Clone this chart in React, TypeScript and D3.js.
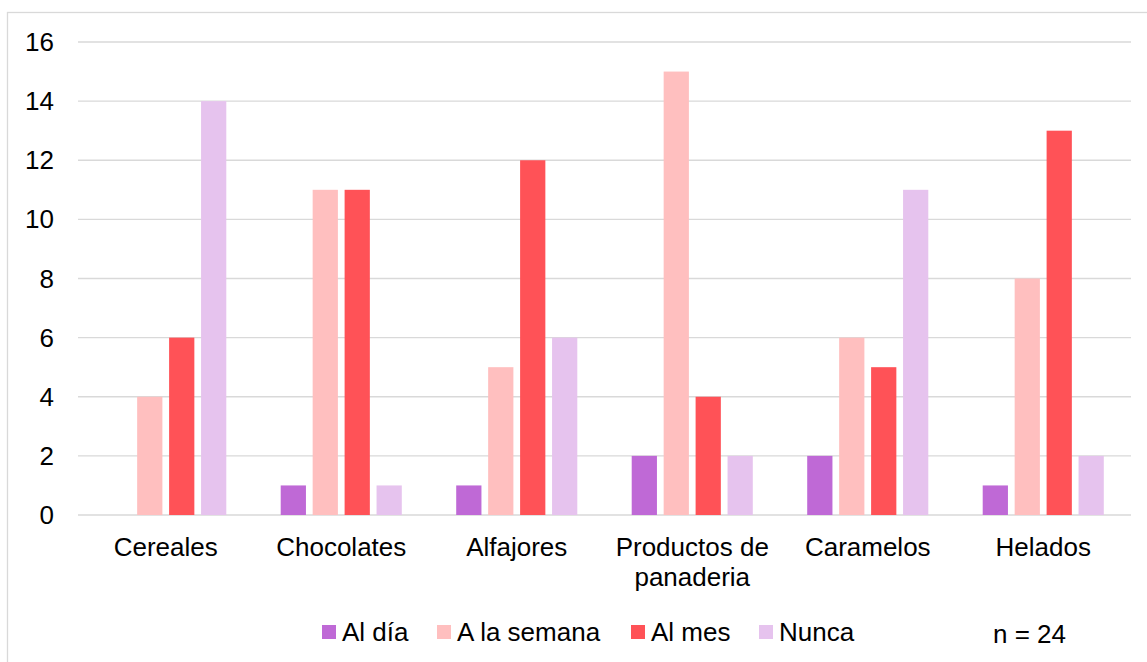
import React from "react";
import * as d3 from "d3";

// Frecuencia de consumo por tipo de producto
const categories = [
  "Cereales",
  "Chocolates",
  "Alfajores",
  "Productos de panaderia",
  "Caramelos",
  "Helados",
];
const categoryLines: string[][] = [
  ["Cereales"],
  ["Chocolates"],
  ["Alfajores"],
  ["Productos de", "panaderia"],
  ["Caramelos"],
  ["Helados"],
];
const seriesNames = ["Al día", "A la semana", "Al mes", "Nunca"];
const alDia = [0, 1, 1, 2, 2, 1];
const aLaSemana = [4, 11, 5, 15, 6, 8];
const alMes = [6, 11, 12, 4, 5, 13];
const nunca = [14, 1, 6, 2, 11, 2];
const yTicks = [0, 2, 4, 6, 8, 10, 12, 14, 16];
const sampleNote = "n = 24";

const seriesValues = [alDia, aLaSemana, alMes, nunca];
const colors = ["#BF69D6", "#FFBFBF", "#FF5257", "#E6C3EE"];

const W = 1147;
const H = 662;
const FONT = "'Liberation Sans', Arial, sans-serif";

export default function App() {
  const plotLeft = 78;
  const plotRight = 1131;
  const plotTop = 42;
  const plotBottom = 515;

  const x0 = d3
    .scaleBand<string>()
    .domain(categories)
    .range([plotLeft, plotRight])
    .paddingInner(0.31)
    .paddingOuter(0.155);
  const x1 = d3
    .scaleBand<string>()
    .domain(seriesNames)
    .range([0, x0.bandwidth()])
    .paddingInner(0.21)
    .paddingOuter(0);
  const y = d3.scaleLinear().domain([0, 16]).range([plotBottom, plotTop]);

  const legendX = [322, 437, 631, 759];

  return (
    <svg
      width={W}
      height={H}
      style={{ position: "absolute", left: 0, top: 0, background: "#fff" }}
      fontFamily={FONT}
    >
      <rect x={0} y={0} width={W} height={H} fill="#fff" />
      <rect
        x={7.5}
        y={12.5}
        width={W + 20}
        height={H + 20}
        fill="none"
        stroke="#D9D9D9"
        strokeWidth={1.3}
      />
      {yTicks.map((t) => (
        <g key={t}>
          <line
            x1={plotLeft}
            x2={plotRight}
            y1={y(t)}
            y2={y(t)}
            stroke="#D9D9D9"
            strokeWidth={1.4}
          />
          <text
            x={54}
            y={y(t) + 9}
            textAnchor="end"
            fontSize={26}
            fill="#000"
          >
            {t}
          </text>
        </g>
      ))}
      {categories.map((c, ci) => (
        <g key={c} transform={`translate(${x0(c)},0)`}>
          {seriesNames.map((s, si) => {
            const v = seriesValues[si][ci];
            if (v <= 0) return null;
            return (
              <rect
                key={s}
                x={x1(s)}
                y={y(v)}
                width={x1.bandwidth()}
                height={y(0) - y(v)}
                fill={colors[si]}
              />
            );
          })}
        </g>
      ))}
      {categories.map((c, ci) => (
        <text
          key={c}
          x={(x0(c) as number) + x0.bandwidth() / 2}
          y={556}
          textAnchor="middle"
          fontSize={26}
          fill="#000"
        >
          {categoryLines[ci].map((line, li) => (
            <tspan
              key={li}
              x={(x0(c) as number) + x0.bandwidth() / 2}
              dy={li === 0 ? 0 : 30}
            >
              {line}
            </tspan>
          ))}
        </text>
      ))}
      {seriesNames.map((s, si) => (
        <g key={s} transform={`translate(${legendX[si]},625)`}>
          <rect x={0} y={0} width={14} height={14} fill={colors[si]} />
          <text x={20} y={16} fontSize={26} fill="#000">
            {s}
          </text>
        </g>
      ))}
      <text x={993} y={643} fontSize={26} fill="#000">
        {sampleNote}
      </text>
    </svg>
  );
}
